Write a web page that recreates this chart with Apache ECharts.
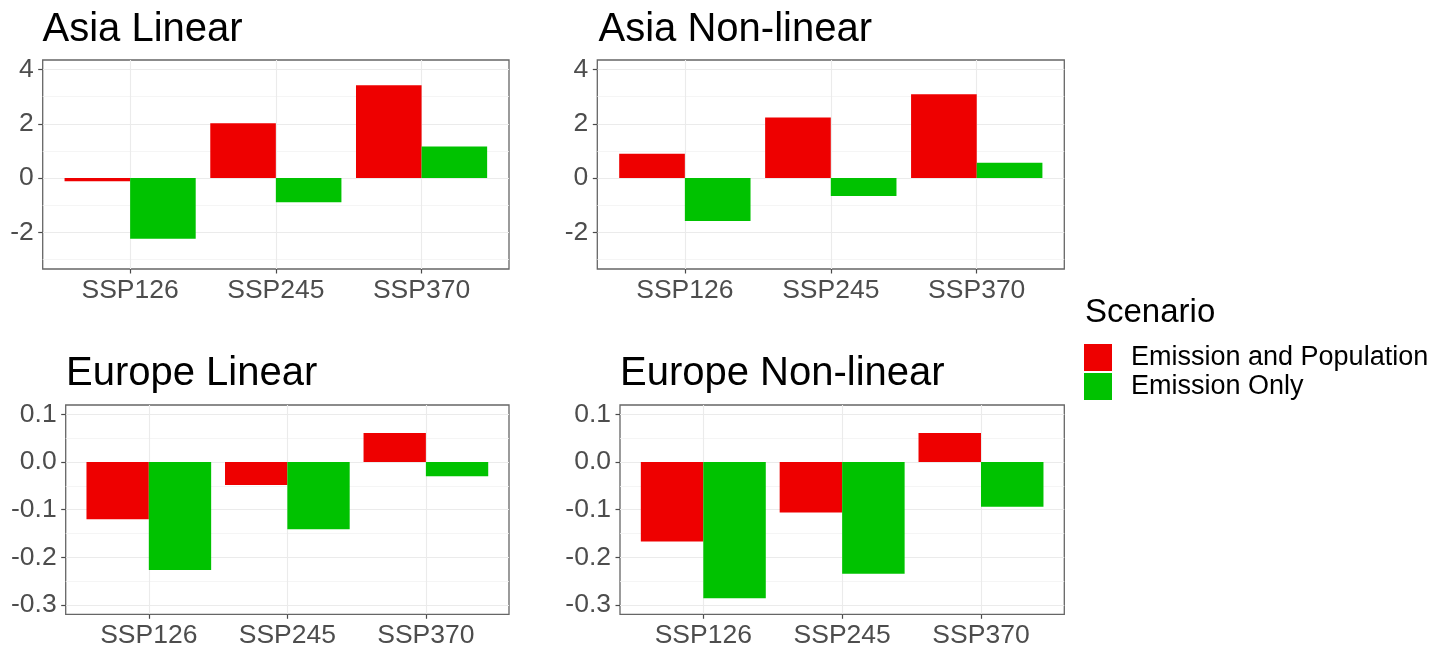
<!DOCTYPE html>
<html>
<head>
<meta charset="utf-8">
<script src="https://cdn.jsdelivr.net/npm/echarts@6/dist/echarts.min.js"></script>
<style>
  html, body { margin: 0; padding: 0; background: #ffffff; }
  #chart { width: 1447px; height: 649px; }
</style>
</head>
<body>
<div id="chart"></div>
<script>
// Scenario categories along each panel's x axis
const scenarios = ['SSP126', 'SSP245', 'SSP370'];
const seriesNames = ['Emission and Population', 'Emission Only'];

// Asia, linear model
const asiaLinearPop = [-0.12, 2.02, 3.42];
const asiaLinearEmis = [-2.24, -0.89, 1.16];
// Asia, non-linear model
const asiaNonlinPop = [0.90, 2.23, 3.09];
const asiaNonlinEmis = [-1.58, -0.66, 0.56];
// Europe, linear model
const europeLinearPop = [-0.120, -0.048, 0.061];
const europeLinearEmis = [-0.227, -0.141, -0.030];
// Europe, non-linear model
const europeNonlinPop = [-0.167, -0.106, 0.061];
const europeNonlinEmis = [-0.286, -0.235, -0.094];

// Y axis breaks
const asiaTicks = [-2, 0, 2, 4];
const asiaMinor = [-3, -1, 1, 3];
const europeTicks = [-0.3, -0.2, -0.1, 0.0, 0.1];
const europeMinor = [-0.25, -0.15, -0.05, 0.05];

const FONT = 'Liberation Sans, Arial, sans-serif';
const RED = '#EE0000';
const GREEN = '#00C200';
const GRID_MAJOR = '#EBEBEB';
const GRID_MINOR = '#F3F3F3';
const AXIS_DARK = '#4a4a4a';

const panels = [
  { title: 'Asia Linear', pop: asiaLinearPop, emis: asiaLinearEmis,
    ticks: asiaTicks, minor: asiaMinor, lim: [-3.35, 4.35], dec: 0,
    grid: { left: 42.7, top: 60, width: 466.3, height: 209 }, tx: 42.5, ty: 10 },
  { title: 'Asia Non-linear', pop: asiaNonlinPop, emis: asiaNonlinEmis,
    ticks: asiaTicks, minor: asiaMinor, lim: [-3.35, 4.35], dec: 0,
    grid: { left: 597.3, top: 60, width: 467, height: 209 }, tx: 598.5, ty: 10 },
  { title: 'Europe Linear', pop: europeLinearPop, emis: europeLinearEmis,
    ticks: europeTicks, minor: europeMinor, lim: [-0.32, 0.12], dec: 1,
    grid: { left: 65.7, top: 405, width: 443.3, height: 209.3 }, tx: 66, ty: 354 },
  { title: 'Europe Non-linear', pop: europeNonlinPop, emis: europeNonlinEmis,
    ticks: europeTicks, minor: europeMinor, lim: [-0.32, 0.12], dec: 1,
    grid: { left: 620, top: 405, width: 444.3, height: 209.3 }, tx: 620, ty: 354 }
];

const option = {
  backgroundColor: '#ffffff',
  animation: false,
  title: [],
  grid: [],
  xAxis: [],
  yAxis: [],
  series: [],
  legend: {
    data: seriesNames,
    orient: 'vertical',
    left: 1084,
    top: 344,
    padding: 0,
    itemWidth: 28,
    itemHeight: 27,
    itemGap: 2,
    icon: 'rect',
    selectedMode: false,
    textStyle: { fontFamily: FONT, fontSize: 27, color: '#000000', padding: [0, 0, 0, 14] }
  }
};

option.title.push({
  text: 'Scenario', left: 1085, top: 296, padding: 0,
  textStyle: { fontFamily: FONT, fontSize: 33, fontWeight: 'normal', color: '#000000' }
});

panels.forEach((p, i) => {
  option.title.push({
    text: p.title, left: p.tx, top: p.ty, padding: 0,
    textStyle: { fontFamily: FONT, fontSize: 40, fontWeight: 'normal', color: '#000000' }
  });
  option.grid.push(Object.assign({
    show: true, borderColor: '#666666', borderWidth: 1.3,
    backgroundColor: '#ffffff', containLabel: false, outerBoundsMode: 'none'
  }, p.grid));

  option.xAxis.push({
    type: 'value', gridIndex: i, min: 0.4, max: 3.6,
    axisLine: { show: false, onZero: false },
    axisTick: { show: true, length: 4.5, customValues: [1, 2, 3],
                lineStyle: { color: AXIS_DARK, width: 1.2 } },
    axisLabel: { customValues: [1, 2, 3], margin: 8, fontFamily: FONT, fontSize: 26.5,
                 color: '#4D4D4D', formatter: v => scenarios[Math.round(v) - 1] },
    splitLine: { show: true, lineStyle: { color: GRID_MAJOR, width: 1.1 } }
  });

  // main y axis: labels, ticks and major grid lines
  option.yAxis.push({
    type: 'value', gridIndex: i, min: p.lim[0], max: p.lim[1],
    axisLine: { show: false, onZero: false },
    axisTick: { show: true, length: 4.5, customValues: p.ticks,
                lineStyle: { color: AXIS_DARK, width: 1.2 } },
    axisLabel: { customValues: p.ticks, margin: 9, fontFamily: FONT, fontSize: 26.5,
                 color: '#4D4D4D', formatter: v => Number(v).toFixed(p.dec) },
    splitLine: { show: true, lineStyle: { color: GRID_MAJOR, width: 1.1 } }
  });
  // companion y axis carrying only the minor grid lines
  option.yAxis.push({
    type: 'value', gridIndex: i, min: p.lim[0], max: p.lim[1], position: 'left',
    axisLine: { show: false, onZero: false },
    axisTick: { show: false, customValues: p.minor },
    axisLabel: { show: false },
    splitLine: { show: true, lineStyle: { color: GRID_MINOR, width: 0.8 } }
  });

  const yIdx = i * 2;
  option.series.push({
    name: seriesNames[0], type: 'bar', xAxisIndex: i, yAxisIndex: yIdx,
    barWidth: '45%', barGap: '0%', itemStyle: { color: RED },
    data: p.pop.map((v, k) => [k + 1, v])
  });
  option.series.push({
    name: seriesNames[1], type: 'bar', xAxisIndex: i, yAxisIndex: yIdx,
    barWidth: '45%', barGap: '0%', itemStyle: { color: GREEN },
    data: p.emis.map((v, k) => [k + 1, v])
  });
});

const chart = echarts.init(document.getElementById('chart'), null, { renderer: 'canvas' });
chart.setOption(option);
</script>
</body>
</html>
